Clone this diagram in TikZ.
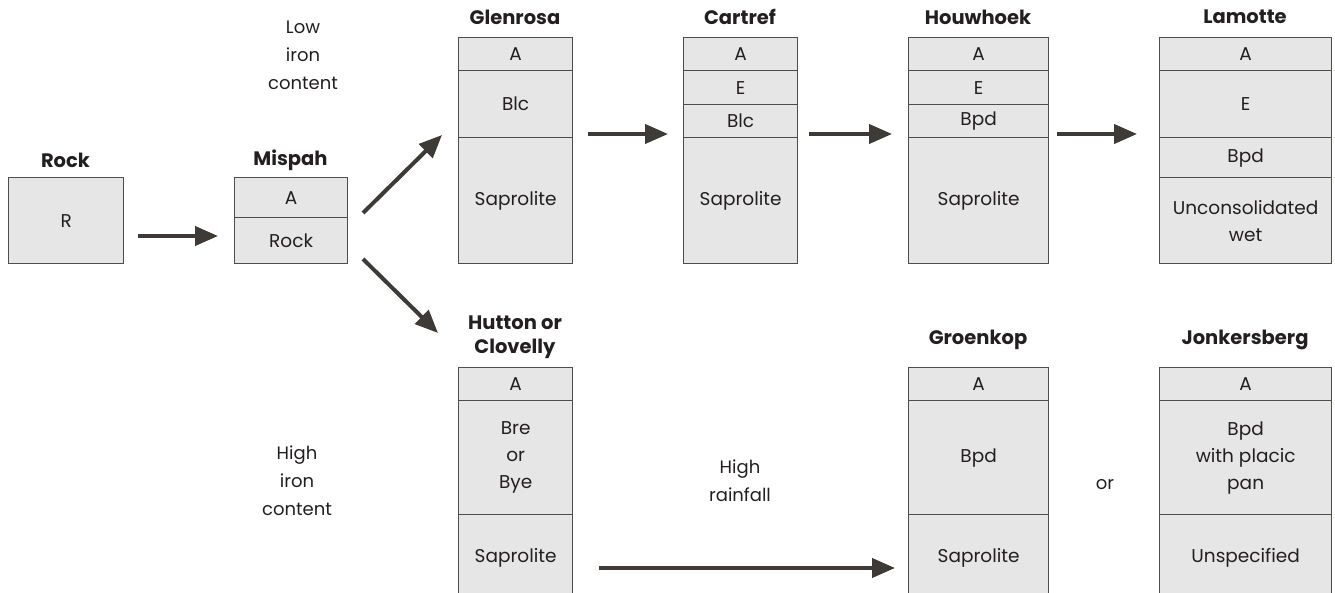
\documentclass[tikz,border=0pt]{standalone}
\usepackage{fontspec}
\setmainfont{Poppins}
\usetikzlibrary{arrows.meta,calc}
\definecolor{boxfill}{RGB}{230,230,230}
\definecolor{boxline}{RGB}{80,76,72}
\definecolor{arrowcol}{RGB}{62,59,54}
\definecolor{txt}{RGB}{35,31,32}
\begin{document}
\begin{tikzpicture}[x=1pt,y=-1pt,
  every node/.style={text=txt},
  row/.style={draw=boxline, line width=1.3pt, fill=boxfill, rectangle, inner sep=0pt,
    anchor=north west, align=center, font=\fontsize{18.5}{27}\selectfont},
  ttl/.style={align=center, font=\fontsize{19.5}{24}\selectfont\bfseries, inner sep=0pt},
  lbl/.style={align=center, font=\fontsize{18}{28}\selectfont, inner sep=0pt},
  arr/.style={draw=arrowcol, line width=4pt, -{Triangle[length=23pt,width=19pt]}, fill=arrowcol}]
\useasboundingbox (0,0) rectangle (1335,593);

% Rock
\node[ttl] (tRock) at (65.5,160) {Rock};
\node[row, minimum width=115pt, minimum height=86pt] (rock) at (8,177) {R};
% Mispah
\node[ttl] (tMis) at (290.5,160) {Mispah};
\node[row, minimum width=113pt, minimum height=40pt] (mA) at (234,177) {A};
\node[row, minimum width=113pt, minimum height=46pt] (mR) at (234,217) {Rock};

% Glenrosa
\node[ttl] (tGlen) at (515,17) {Glenrosa};
\node[row, minimum width=114pt, minimum height=33pt] (gA) at (458,37) {A};
\node[row, minimum width=114pt, minimum height=67pt] (gB) at (458,70) {Blc};
\node[row, minimum width=114pt, minimum height=126pt] (gS) at (458,137) {Saprolite};

% Cartref
\node[ttl] (tCart) at (740,17) {Cartref};
\node[row, minimum width=114pt, minimum height=33pt] (cA) at (683,37) {A};
\node[row, minimum width=114pt, minimum height=34pt] (cE) at (683,70) {E};
\node[row, minimum width=114pt, minimum height=33pt] (cB) at (683,104) {Blc};
\node[row, minimum width=114pt, minimum height=126pt] (cS) at (683,137) {Saprolite};

% Houwhoek
\node[ttl] (tHouw) at (978,17) {Houwhoek};
\node[row, minimum width=140pt, minimum height=33pt] (hA) at (908,37) {A};
\node[row, minimum width=140pt, minimum height=34pt] (hE) at (908,70) {E};
\node[row, minimum width=140pt, minimum height=33pt] (hB) at (908,104) {Bpd};
\node[row, minimum width=140pt, minimum height=126pt] (hS) at (908,137) {Saprolite};

% Lamotte
\node[ttl] (tLam) at (1245,17) {Lamotte};
\node[row, minimum width=172pt, minimum height=33pt] (lA) at (1159,37) {A};
\node[row, minimum width=172pt, minimum height=67pt] (lE) at (1159,70) {E};
\node[row, minimum width=172pt, minimum height=40pt] (lB) at (1159,137) {Bpd};
\node[row, minimum width=172pt, minimum height=86pt] (lU) at (1159,177) {Unconsolidated\\wet};

% Hutton or Clovelly
\node[ttl] (tHut) at (515,337) {Hutton or\\Clovelly};
\node[row, minimum width=114pt, minimum height=33pt] (huA) at (458,367) {A};
\node[row, minimum width=114pt, minimum height=114pt] (huB) at (458,400) {Bre\\or\\Bye};
\node[row, minimum width=114pt, minimum height=86pt] (huS) at (458,514) {Saprolite};

% Groenkop
\node[ttl] (tGro) at (978,340) {Groenkop};
\node[row, minimum width=140pt, minimum height=33pt] (grA) at (908,367) {A};
\node[row, minimum width=140pt, minimum height=114pt] (grB) at (908,400) {Bpd};
\node[row, minimum width=140pt, minimum height=86pt] (grS) at (908,514) {Saprolite};

% Jonkersberg
\node[ttl] (tJon) at (1245,340) {Jonkersberg};
\node[row, minimum width=172pt, minimum height=33pt] (jA) at (1159,367) {A};
\node[row, minimum width=172pt, minimum height=114pt] (jB) at (1159,400) {Bpd\\with placic\\pan};
\node[row, minimum width=172pt, minimum height=86pt] (jS) at (1159,514) {Unspecified};

% labels
\node[lbl] (low) at (303,55) {Low\\iron\\content};
\node[lbl] (high) at (297,481) {High\\iron\\content};
\node[lbl] (rain) at (740,481) {High\\rainfall};
\node[lbl] (or) at (1105,485) {or};

% arrows
\draw[arr, shorten <=14pt, shorten >=16pt] (rock.east |- 0,236) -- (mR.west |- 0,236);
\coordinate (upS) at (363,213);
\coordinate (upE) at (442,135);
\coordinate (dnS) at (363,259);
\coordinate (dnE) at (438,333);
\draw[arr] (upS) -- (upE);
\draw[arr] (dnS) -- (dnE);
\draw[arr, shorten <=15pt, shorten >=15pt] (gS.east |- 0,134) -- (cS.west |- 0,134);
\draw[arr, shorten <=11pt, shorten >=16pt] (cS.east |- 0,134) -- (hS.west |- 0,134);
\draw[arr, shorten <=8pt, shorten >=22pt] (hS.east |- 0,134) -- (lB.west |- 0,134);
\draw[arr, shorten <=26pt, shorten >=13pt] (huS.east |- 0,568) -- (grS.west |- 0,568);
\end{tikzpicture}
\end{document}
